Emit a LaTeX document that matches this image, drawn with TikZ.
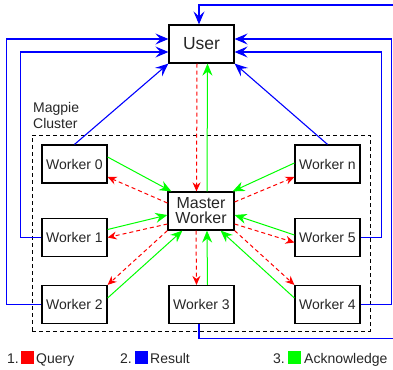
\documentclass[tikz,border=0pt]{standalone}
\usepackage{fontspec}
\setmainfont{Liberation Sans}
\usetikzlibrary{arrows.meta}
\begin{document}
\begin{tikzpicture}[x=1pt,y=-1pt,
  font=\fontsize{14}{16}\selectfont,
  box/.style={draw=black, line width=1.2pt, minimum width=65pt, minimum height=38pt,
              inner sep=0pt, text=black!85, align=center},
  lbl/.style={inner sep=0pt, text=black!85},
  swatch/.style={minimum size=13pt, inner sep=0pt},
  res/.style={draw=blue, line width=1.1pt, -{Stealth[length=13pt,width=11pt,inset=5pt]}},
  ack/.style={draw=green, line width=1pt, -{Stealth[length=12pt,width=10pt,inset=4pt]}},
  qry/.style={draw=red, line width=1pt, dash pattern=on 4pt off 3pt,
              -{Stealth[length=9pt,width=8pt,inset=3pt]}},
]
\useasboundingbox (0,0) rectangle (393,369);
\clip (0,0) rectangle (393,369);

% cluster frame and its caption
\node[draw=black, line width=1pt, dash pattern=on 4pt off 3pt,
      minimum width=338pt, minimum height=196pt, inner sep=0pt] (cluster) at (201,233) {};
\node[lbl, anchor=north west, align=left] (cap) at (33,102) {Magpie\\Cluster};

% nodes
\node[box, font=\fontsize{17.5}{20}\selectfont] (user) at (201.5,44) {User};
\node[box, minimum width=66pt, font=\fontsize{16}{15}\selectfont] (master) at (201,211) {Master\\Worker};
\node[box] (w0) at (74.5,164) {Worker 0};
\node[box] (w1) at (74.5,237.5) {Worker 1};
\node[box] (w2) at (74.5,304.5) {Worker 2};
\node[box] (w3) at (201.5,304.5) {Worker 3};
\node[box] (w4) at (327.5,304.5) {Worker 4};
\node[box] (w5) at (327.5,237.5) {Worker 5};
\node[box] (wn) at (327.5,164) {Worker n};

% results back to the user
\draw[res] (w0.north) -- (user.south west);
\draw[res] (wn.north) -- (user.south east);
\draw[res] (w1.west) -- ++(-21,0) |- ([yshift=-8pt]user.west);
\draw[res] (w2.west) -- ++(-35,0) |- ([yshift=5pt]user.west);
\draw[res] (w5.east) -- ++(21,0) |- ([yshift=-8pt]user.east);
\draw[res] (w4.east) -- ++(31,0) |- ([yshift=5pt]user.east);
\draw[res] ([xshift=-2.5pt]w3.south) -- ++(0,14) -| (420,5) -| ([xshift=-2.5pt]user.north);

% queries
\draw[qry] ([xshift=-4.5pt]user.south) -- ([xshift=-4.5pt]master.north);
\draw[qry] ([yshift=8pt]master.west) -- ([yshift=-13pt]w0.east);
\draw[qry] ([yshift=-13pt]master.west) -- (w1.east);
\draw[qry] (master.south west) -- (w2.north east);
\draw[qry] ([xshift=-5pt]master.south) -- ([xshift=-5pt]w3.north);
\draw[qry] (master.south east) -- (w4.north west);
\draw[qry] ([yshift=-13pt]master.east) -- ([yshift=-5pt]w5.west);
\draw[qry] ([yshift=9pt]master.east) -- ([yshift=-13pt]wn.west);

% acknowledgements
\draw[ack] ([xshift=6pt]master.north) -- ([xshift=6pt]user.south);
\draw[ack] ([yshift=7pt]w0.east) -- ([xshift=4pt]master.north west);
\draw[ack] ([yshift=8pt]w1.east) -- ([yshift=-4pt]master.west);
\draw[ack] ([yshift=6.5pt]w2.east) -- ([xshift=15pt]master.south west);
\draw[ack] ([xshift=6pt]w3.north) -- ([xshift=6pt]master.south);
\draw[ack] ([yshift=6.5pt]w4.west) -- ([xshift=-14pt]master.south east);
\draw[ack] ([yshift=2.5pt]w5.west) -- ([yshift=-4pt]master.east);
\draw[ack] ([yshift=1pt]wn.west) -- ([xshift=-2pt]master.north east);

% legend
\node[lbl, anchor=base west] (n1) at (7,363) {1.};
\node[swatch, fill=red] (s1) at (27.5,357.5) {};
\node[lbl, anchor=base west] (t1) at (36,363) {Query};
\node[lbl, anchor=base west] (n2) at (120,363) {2.};
\node[swatch, fill=blue] (s2) at (141,357.5) {};
\node[lbl, anchor=base west] (t2) at (150,363) {Result};
\node[lbl, anchor=base west] (n3) at (273,363) {3.};
\node[swatch, fill=green] (s3) at (294,357.5) {};
\node[lbl, anchor=base west] (t3) at (304,363) {Acknowledge};
\end{tikzpicture}
\end{document}
